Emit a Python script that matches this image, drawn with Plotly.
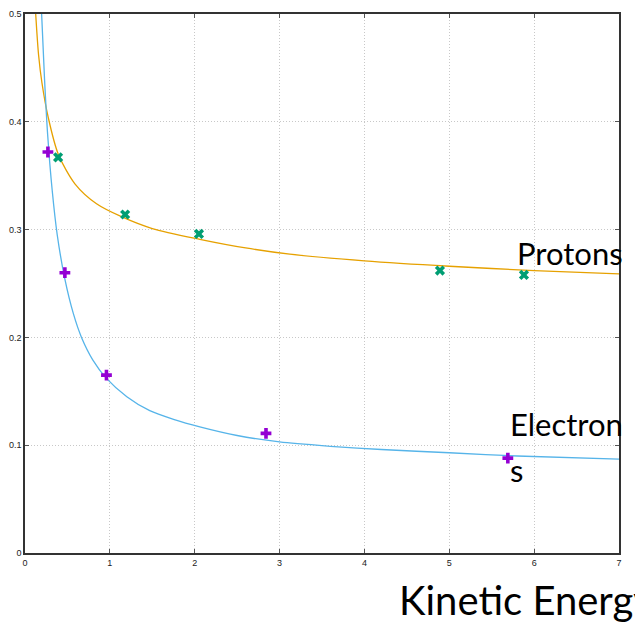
import plotly.graph_objects as go

# Measured points
electron_x = [0.27, 0.47, 0.96, 2.84, 5.69]
electron_y = [0.372, 0.260, 0.165, 0.111, 0.088]
proton_x = [0.39, 1.18, 2.05, 4.89, 5.88]
proton_y = [0.367, 0.314, 0.296, 0.262, 0.258]

# Fit curves
electron_fit_x = [0.196, 0.23, 0.267, 0.321, 0.38, 0.47, 0.57, 0.666, 0.80, 0.96, 1.2, 1.47, 1.75, 2.06, 2.5, 3.0, 3.6, 4.2, 5.0, 5.8, 7.0]
electron_fit_y = [0.500, 0.440, 0.388, 0.336, 0.295, 0.254, 0.222, 0.200, 0.179, 0.162, 0.145, 0.132, 0.124, 0.117, 0.109, 0.103, 0.099, 0.096, 0.093, 0.090, 0.087]
proton_fit_x = [0.126, 0.16, 0.20, 0.274, 0.392, 0.588, 0.843, 1.137, 1.5, 2.06, 2.6, 3.12, 4.0, 5.0, 6.0, 7.0]
proton_fit_y = [0.500, 0.462, 0.436, 0.404, 0.370, 0.3425, 0.324, 0.312, 0.301, 0.291, 0.283, 0.2772, 0.271, 0.266, 0.262, 0.259]

x_ticks = [0, 1, 2, 3, 4, 5, 6, 7]
y_ticks = [0, 0.1, 0.2, 0.3, 0.4, 0.5]
y_tick_text = ["0", "0.1", "0.2", "0.3", "0.4", "0.5"]

fig = go.Figure()
fig.add_trace(go.Scatter(x=proton_fit_x, y=proton_fit_y, mode="lines",
                         line=dict(color="#E6A100", width=1.3, shape="spline", smoothing=0.8),
                         hoverinfo="skip", showlegend=False))
fig.add_trace(go.Scatter(x=electron_fit_x, y=electron_fit_y, mode="lines",
                         line=dict(color="#56B4E9", width=1.3, shape="spline", smoothing=0.8),
                         hoverinfo="skip", showlegend=False))
fig.add_trace(go.Scatter(x=electron_x, y=electron_y, mode="markers",
                         marker=dict(symbol="cross", size=9, color="#9400D3"),
                         showlegend=False, cliponaxis=False))
fig.add_trace(go.Scatter(x=proton_x, y=proton_y, mode="markers",
                         marker=dict(symbol="x", size=9, color="#009E73"),
                         showlegend=False, cliponaxis=False))

L, R, T, B = 25, 16, 9, 69
W, H = 635, 622
pw, ph = W - L - R, H - T - B

def px(x):
    return (x - L) / pw

def py(y):
    return (H - B - y) / ph

text_font = "Lato, Open Sans, sans-serif"
fig.add_annotation(text="Protons", xref="paper", yref="paper", x=px(515), y=py(250),
                   xanchor="left", yanchor="middle", showarrow=False,
                   font=dict(family=text_font, size=31, color="#000"))
fig.add_annotation(text="Electron", xref="paper", yref="paper", x=px(508), y=py(423),
                   xanchor="left", yanchor="middle", showarrow=False,
                   font=dict(family=text_font, size=31, color="#000"))
fig.add_annotation(text="s", xref="paper", yref="paper", x=px(508), y=py(469),
                   xanchor="left", yanchor="middle", showarrow=False,
                   font=dict(family=text_font, size=31, color="#000"))
fig.add_annotation(text="Kinetic Energy", xref="paper", yref="paper", x=px(397), y=py(600),
                   xanchor="left", yanchor="middle", showarrow=False,
                   font=dict(family=text_font, size=40, color="#000"))

axis_common = dict(showline=True, linecolor="#333", linewidth=1.5, mirror="ticks",
                   ticks="inside", ticklen=4, tickcolor="#555", tickwidth=1,
                   showgrid=True, gridcolor="#c8c8c8", griddash="1px,2px", gridwidth=1,
                   zeroline=False, tickfont=dict(family="Liberation Sans, Arial, sans-serif", size=9, color="#222"))

fig.update_xaxes(range=[0, 7], tickvals=x_ticks, **axis_common)
fig.update_yaxes(range=[0, 0.5], tickvals=y_ticks, ticktext=y_tick_text, **axis_common)

fig.update_layout(width=W, height=H, margin=dict(l=L, r=R, t=T, b=B),
                  paper_bgcolor="white", plot_bgcolor="white")

fig.write_html("out.html")
